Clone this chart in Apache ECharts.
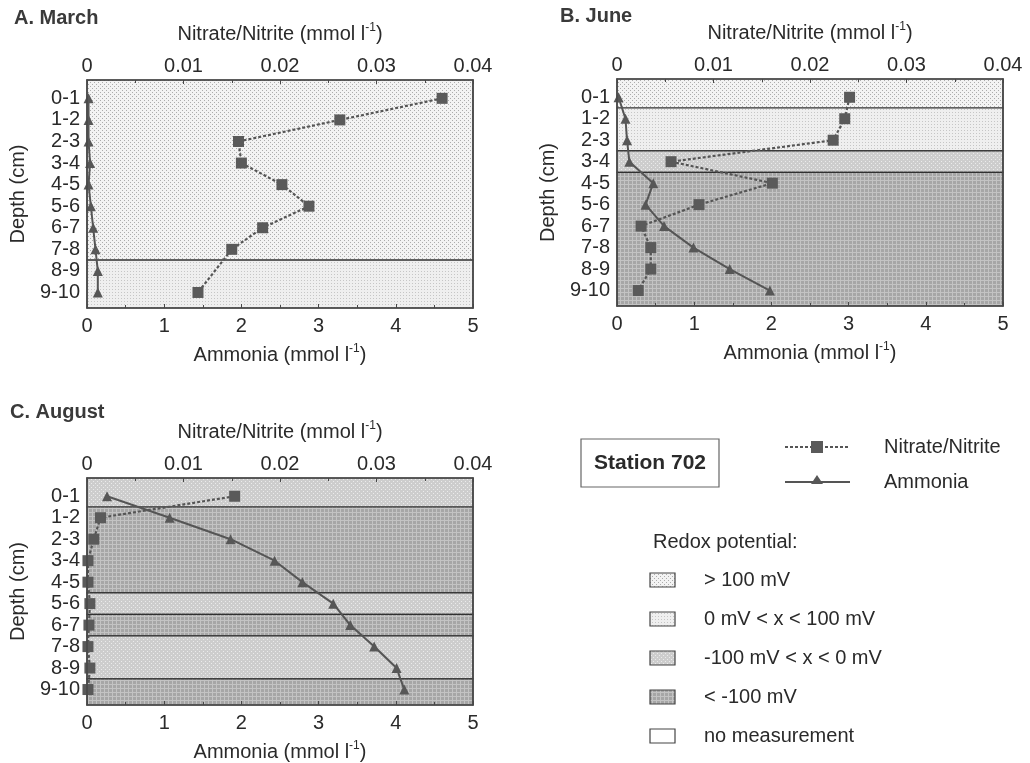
<!DOCTYPE html>
<html>
<head>
<meta charset="utf-8">
<script src="https://cdn.jsdelivr.net/npm/echarts@6/dist/echarts.min.js"></script>
<style>
  html, body { margin: 0; padding: 0; background: #fff; }
  #chart { width: 1030px; height: 763px; }
</style>
</head>
<body>
<div id="chart"></div>
<script>
// Sediment pore-water profiles, Station 702
const depthLabels = ['0-1', '1-2', '2-3', '3-4', '4-5', '5-6', '6-7', '7-8', '8-9', '9-10'];
const ammoniaTicks = [0, 1, 2, 3, 4, 5];
const nitrateTicks = [0, 0.01, 0.02, 0.03, 0.04];

// mmol l-1, one value per depth layer (null = not measured)
const marchNitrate  = [0.0368, 0.0262, 0.0157, 0.0160, 0.0202, 0.0230, 0.0182, 0.0150, null, 0.0115];
const marchAmmonia  = [0.02, 0.02, 0.02, 0.04, 0.02, 0.05, 0.08, 0.11, 0.14, 0.14];
const juneNitrate   = [0.0241, 0.0236, 0.0224, 0.0056, 0.0161, 0.0085, 0.0025, 0.0035, 0.0035, 0.0022];
const juneAmmonia   = [0.02, 0.11, 0.13, 0.16, 0.47, 0.37, 0.61, 0.99, 1.46, 1.98];
const augustNitrate = [0.0153, 0.0014, 0.0007, 0.0001, 0.0001, 0.0003, 0.0002, 0.0001, 0.0003, 0.0001];
const augustAmmonia = [0.26, 1.07, 1.86, 2.43, 2.79, 3.19, 3.41, 3.72, 4.01, 4.11];

// Redox class per depth layer: 0 >100 mV, 1 0..100 mV, 2 -100..0 mV, 3 < -100 mV
const marchRedox  = [0, 0, 0, 0, 0, 0, 0, 0, 1, 1];
const juneRedox   = [0, 1, 1, 2, 3, 3, 3, 3, 3, 3];
const augustRedox = [2, 3, 3, 3, 3, 2, 3, 2, 2, 3];
const redoxLabels = ['> 100 mV', '0 mV < x < 100 mV', '-100 mV < x < 0 mV', '< -100 mV', 'no measurement'];

const panelTitles = ['A. March', 'B. June', 'C. August'];
const seriesNames = ['Nitrate/Nitrite', 'Ammonia'];

// ---- layout & style ----
const DEPTH_MIN = -0.85, DEPTH_MAX = 9.72;
const FONT = '"Liberation Sans", Arial, sans-serif';
const TXT = '#2a2a2a';
const LINE = '#484848';
const FS = 20;
const grids = [
  { left: 87, top: 80, width: 386, height: 228 },
  { left: 617, top: 79, width: 386, height: 227 },
  { left: 87, top: 478, width: 386, height: 227 }
];
const titlePos = [{ left: 14, top: 8 }, { left: 560, top: 6 }, { left: 10, top: 402 }];

// textured fills for the redox classes
function makePattern(kind) {
  const c = document.createElement('canvas');
  const n = kind === 1 ? 3 : 4;
  c.width = n; c.height = n;
  const g = c.getContext('2d');
  if (kind === 0) {
    g.fillStyle = '#f3f3f3'; g.fillRect(0, 0, n, n);
    g.fillStyle = '#acacac'; g.fillRect(0, 0, 1, 1); g.fillRect(2, 2, 1, 1);
  } else if (kind === 1) {
    g.fillStyle = '#efefef'; g.fillRect(0, 0, n, n);
    g.fillStyle = '#c6c6c6'; g.fillRect(1, 1, 1, 1);
  } else if (kind === 2) {
    g.fillStyle = '#cdcdcd'; g.fillRect(0, 0, n, n);
    g.fillStyle = '#ebebeb'; g.fillRect(1, 1, 1, 1); g.fillRect(3, 3, 1, 1);
  } else if (kind === 3) {
    g.fillStyle = '#a6a6a6'; g.fillRect(0, 0, n, n);
    g.fillStyle = '#c3c3c3'; g.fillRect(0, 0, n, 1); g.fillRect(0, 0, 1, n);
  } else {
    g.fillStyle = '#ffffff'; g.fillRect(0, 0, n, n);
  }
  return { image: c, repeat: 'repeat' };
}
const patterns = [0, 1, 2, 3, 4].map(makePattern);

function bandAreas(redox) {
  const runs = [];
  redox.forEach((k, i) => {
    const last = runs[runs.length - 1];
    if (last && last.k === k) last.end = i; else runs.push({ k: k, start: i, end: i });
  });
  return runs.map(r => [
    {
      yAxis: r.start === 0 ? DEPTH_MIN : r.start - 0.5,
      itemStyle: { color: patterns[r.k], borderColor: '#303030', borderWidth: 1.2, opacity: 1 }
    },
    { yAxis: r.end === redox.length - 1 ? DEPTH_MAX : r.end + 0.5 }
  ]);
}

function unitName(label) {
  return '{n|' + label + ' (mmol l}{s|-1}{n|)}';
}
const nameRich = {
  n: { fontFamily: FONT, fontSize: FS, color: TXT, lineHeight: 24 },
  s: { fontFamily: FONT, fontSize: 12, color: TXT, lineHeight: 14, verticalAlign: 'top' }
};

const panels = [
  { nitrate: marchNitrate, ammonia: marchAmmonia, redox: marchRedox },
  { nitrate: juneNitrate, ammonia: juneAmmonia, redox: juneRedox },
  { nitrate: augustNitrate, ammonia: augustAmmonia, redox: augustRedox }
];

const xAxes = [], yAxes = [], series = [];
const axisLineStyle = { show: true, onZero: false, lineStyle: { color: LINE, width: 1.6 } };
const labelStyle = { fontFamily: FONT, fontSize: FS, color: TXT };

panels.forEach((p, i) => {
  // bottom: ammonia
  xAxes.push({
    gridIndex: i, type: 'value', position: 'bottom', z: 6,
    min: ammoniaTicks[0], max: ammoniaTicks[ammoniaTicks.length - 1], interval: 1,
    name: unitName('Ammonia'), nameLocation: 'middle', nameGap: 35,
    nameTextStyle: { rich: nameRich },
    axisLine: axisLineStyle,
    axisTick: { show: true, inside: true, length: 4, lineStyle: { color: LINE } },
    minorTick: { show: true, splitNumber: 2, length: 3, lineStyle: { color: LINE } },
    splitLine: { show: false },
    axisLabel: Object.assign({ margin: 8, showMinLabel: true, showMaxLabel: true }, labelStyle)
  });
  // top: nitrate/nitrite
  xAxes.push({
    gridIndex: i, type: 'value', position: 'top', z: 6,
    min: nitrateTicks[0], max: nitrateTicks[nitrateTicks.length - 1], interval: 0.01,
    name: unitName('Nitrate/Nitrite'), nameLocation: 'middle', nameGap: 34,
    nameTextStyle: { rich: nameRich },
    axisLine: axisLineStyle,
    axisTick: { show: true, inside: true, length: 4, lineStyle: { color: LINE } },
    minorTick: { show: true, splitNumber: 2, length: 3, lineStyle: { color: LINE } },
    splitLine: { show: false },
    axisLabel: Object.assign({
      margin: 4, showMinLabel: true, showMaxLabel: true,
      formatter: v => (v === 0 ? '0' : v.toFixed(2))
    }, labelStyle)
  });
  // left: depth
  yAxes.push({
    gridIndex: i, type: 'value', position: 'left', inverse: true, z: 6,
    min: DEPTH_MIN, max: DEPTH_MAX,
    name: 'Depth (cm)', nameLocation: 'middle', nameGap: 59, nameRotate: 90,
    nameTextStyle: { fontFamily: FONT, fontSize: FS, color: TXT },
    axisLine: axisLineStyle,
    axisTick: { show: false },
    splitLine: { show: false },
    axisLabel: Object.assign({
      margin: 7,
      customValues: depthLabels.map((d, k) => k),
      formatter: v => depthLabels[Math.round(v)]
    }, labelStyle)
  });
  // right frame edge
  yAxes.push({
    gridIndex: i, type: 'value', position: 'right', inverse: true, z: 6,
    min: DEPTH_MIN, max: DEPTH_MAX,
    axisLine: axisLineStyle,
    axisTick: { show: false }, axisLabel: { show: false }, splitLine: { show: false }
  });

  const nitratePts = [];
  p.nitrate.forEach((v, k) => { if (v !== null) nitratePts.push([v, k]); });
  const ammoniaPts = p.ammonia.map((v, k) => [v, k]);

  series.push({
    name: seriesNames[1], type: 'line', xAxisIndex: i * 2, yAxisIndex: i * 2,
    data: ammoniaPts, symbol: 'triangle', symbolSize: 10, showSymbol: true,
    lineStyle: { color: '#555', width: 2 },
    itemStyle: { color: '#575757' },
    animation: false, silent: true,
    markArea: { silent: true, data: bandAreas(p.redox) }
  });
  series.push({
    name: seriesNames[0], type: 'line', xAxisIndex: i * 2 + 1, yAxisIndex: i * 2,
    data: nitratePts, symbol: 'rect', symbolSize: 11, showSymbol: true,
    lineStyle: { color: '#555', width: 2.2, type: [3, 2] },
    itemStyle: { color: '#5a5a5a' },
    animation: false, silent: true, z: 3
  });
});

// legend block
const legendGraphics = [
  { type: 'rect', shape: { x: 581, y: 439, width: 138, height: 48 },
    style: { fill: 'none', stroke: '#666', lineWidth: 1.2 } },
  { type: 'text', x: 650, y: 463,
    style: { text: 'Station 702', font: 'bold 21px ' + FONT, fill: TXT, align: 'center', verticalAlign: 'middle' } },
  { type: 'line', shape: { x1: 785, y1: 447, x2: 850, y2: 447 },
    style: { stroke: '#555', lineWidth: 2, lineDash: [3, 2] } },
  { type: 'rect', shape: { x: 811, y: 441, width: 12, height: 12 }, style: { fill: '#5a5a5a' } },
  { type: 'text', x: 884, y: 447,
    style: { text: seriesNames[0], font: FS + 'px ' + FONT, fill: TXT, verticalAlign: 'middle' } },
  { type: 'line', shape: { x1: 785, y1: 482, x2: 850, y2: 482 },
    style: { stroke: '#555', lineWidth: 2 } },
  { type: 'polygon', shape: { points: [[817, 475], [823, 484], [811, 484]] }, style: { fill: '#575757' } },
  { type: 'text', x: 884, y: 482,
    style: { text: seriesNames[1], font: FS + 'px ' + FONT, fill: TXT, verticalAlign: 'middle' } },
  { type: 'text', x: 653, y: 542,
    style: { text: 'Redox potential:', font: FS + 'px ' + FONT, fill: TXT, verticalAlign: 'middle' } }
];
redoxLabels.forEach((lab, k) => {
  const cy = 580 + k * 39;
  legendGraphics.push({
    type: 'rect', shape: { x: 650, y: cy - 7, width: 25, height: 14 },
    style: { fill: patterns[k], stroke: '#444', lineWidth: 1.2 }
  });
  legendGraphics.push({
    type: 'text', x: 704, y: cy,
    style: { text: lab, font: FS + 'px ' + FONT, fill: TXT, verticalAlign: 'middle' }
  });
});

const chart = echarts.init(document.getElementById('chart'), null, { renderer: 'canvas' });
chart.setOption({
  backgroundColor: '#ffffff',
  animation: false,
  textStyle: { fontFamily: FONT },
  title: panelTitles.map((t, i) => ({
    text: t, left: titlePos[i].left, top: titlePos[i].top, padding: 0,
    textStyle: { fontFamily: FONT, fontSize: 20, fontWeight: 'bold', color: '#3a3a3a' }
  })),
  grid: grids,
  xAxis: xAxes,
  yAxis: yAxes,
  series: series,
  graphic: legendGraphics
});
</script>
</body>
</html>
